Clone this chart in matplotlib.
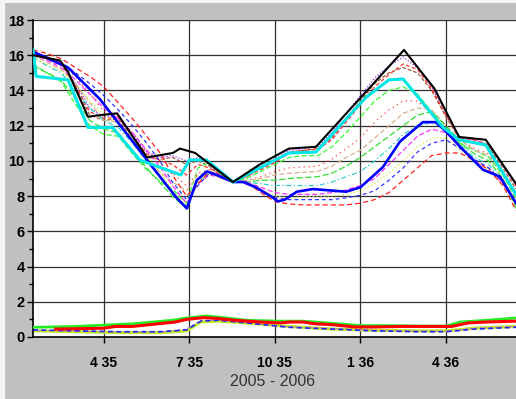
import matplotlib
matplotlib.use('Agg')
import matplotlib.pyplot as plt
from matplotlib.patches import Rectangle

# ---------------- data ----------------
x_ticks = [4, 7, 10, 13, 16]
x_tick_labels = ["4 35", "7 35", "10 35", "1 36", "4 36"]
y_ticks = [0, 2, 4, 6, 8, 10, 12, 14, 16, 18]
x_label = "2005 - 2006"

black_x = [1.51, 2.46, 2.74, 3.44, 3.86, 4.46, 5.51, 6.42, 6.67, 7.2, 8.53, 9.47, 10.49, 11.44, 14.53, 15.6, 16.46, 17.4, 18.46]
black_y = [16.0, 15.7, 15.06, 12.5, 12.6, 12.7, 10.2, 10.45, 10.7, 10.45, 8.8, 9.8, 10.7, 10.8, 16.3, 14.1, 11.36, 11.2, 8.7]

cyan_x = [1.51, 1.62, 2.46, 2.74, 3.44, 4.3, 5.26, 6.7, 7.0, 7.6, 8.53, 9.47, 10.49, 11.44, 13.19, 14.0, 14.5, 15.9, 16.46, 17.4, 18.46]
cyan_y = [16.3, 14.8, 14.65, 14.6, 11.9, 11.9, 10.05, 9.2, 10.05, 10.05, 8.8, 9.6, 10.45, 10.5, 13.6, 14.6, 14.65, 11.9, 11.2, 10.9, 8.1]

blue_x = [1.51, 2.74, 3.86, 5.51, 6.55, 6.91, 7.26, 7.61, 7.96, 8.53, 8.88, 9.33, 9.9, 10.1, 10.35, 10.77, 11.33, 12.5, 13.0, 13.79, 14.39, 15.19, 15.65, 16.05, 16.5, 17.3, 17.9, 18.46]
blue_y = [16.2, 15.3, 13.5, 10.05, 7.9, 7.3, 8.9, 9.4, 9.2, 8.8, 8.8, 8.5, 7.95, 7.7, 7.8, 8.25, 8.4, 8.25, 8.5, 9.65, 11.1, 12.2, 12.2, 11.6, 10.8, 9.5, 9.1, 7.6]

months = [1.51, 2.0, 2.5, 3.0, 3.5, 4.0, 4.5, 5.0, 5.5, 6.0, 6.4, 6.9, 7.3, 7.7, 8.0, 8.5,
          9.0, 9.5, 10.0, 10.5, 11.0, 11.5, 12.0, 12.5, 13.0, 13.5, 14.0, 14.5, 15.0, 15.5, 16.0, 16.5, 17.0, 17.5, 18.0, 18.46]

thin_purple = [16.1, 15.8, 15.5, 14.4, 13.0, 12.5, 12.6, 11.5, 10.5, 10.2, 10.3, 10.0, 10.2, 9.8, 9.4, 8.8,
               9.2, 9.7, 10.1, 10.6, 10.7, 10.8, 11.6, 12.7, 13.7, 14.7, 15.4, 15.9, 15.3, 14.2, 12.7, 11.3, 11.2, 10.9, 9.7, 8.6]
thin_brown = [16.0, 15.8, 15.5, 14.2, 12.6, 12.3, 12.4, 11.2, 10.2, 10.1, 10.2, 9.8, 10.0, 9.7, 9.3, 8.8,
              9.1, 9.6, 10.0, 10.5, 10.6, 10.7, 11.3, 12.4, 13.4, 14.4, 15.0, 15.3, 15.0, 14.0, 12.5, 11.2, 11.1, 10.8, 9.6, 8.4]
thin_red_top = [16.1, 15.9, 15.6, 14.3, 12.8, 12.4, 12.5, 11.4, 10.4, 10.0, 9.8, 9.2, 9.8, 9.6, 9.3, 8.8,
                9.1, 9.5, 9.9, 10.45, 10.6, 10.65, 11.2, 12.2, 13.2, 14.2, 14.9, 15.5, 15.2, 14.1, 12.6, 11.3, 11.2, 10.9, 9.8, 8.6]
thin_green_a = [15.5, 15.0, 14.5, 13.2, 12.0, 11.5, 11.4, 10.4, 9.5, 8.8, 8.4, 7.6, 9.6, 9.9, 9.4, 8.8,
                9.0, 9.4, 9.8, 10.2, 10.3, 10.3, 10.8, 11.6, 12.5, 13.4, 14.0, 14.2, 13.8, 12.8, 11.7, 11.0, 10.6, 10.2, 9.2, 7.8]
thin_red_dot = [16.2, 15.8, 15.4, 14.8, 13.8, 12.8, 12.5, 11.6, 10.6, 9.8, 9.3, 8.6, 9.3, 9.5, 9.2, 8.8,
                8.9, 9.1, 9.4, 9.6, 9.65, 9.7, 10.1, 10.7, 11.3, 12.2, 12.9, 13.4, 13.4, 12.7, 11.8, 11.2, 10.7, 10.4, 9.4, 8.0]
thin_tan = [16.0, 15.6, 15.2, 14.4, 13.3, 12.3, 12.2, 11.2, 10.2, 9.3, 8.8, 8.3, 9.2, 9.4, 9.1, 8.8,
            8.9, 9.0, 9.2, 9.3, 9.35, 9.4, 9.7, 10.2, 10.6, 11.3, 12.0, 12.7, 13.0, 12.9, 12.0, 11.2, 10.6, 10.3, 9.3, 7.9]
thin_green_b = [15.4, 15.0, 14.6, 13.5, 12.3, 11.8, 11.6, 10.6, 9.6, 8.7, 8.0, 7.3, 9.0, 9.4, 9.1, 8.8,
                8.8, 8.9, 8.9, 9.0, 9.05, 9.1, 9.3, 9.7, 10.2, 10.8, 11.4, 12.0, 12.6, 12.8, 12.0, 11.0, 10.4, 10.0, 9.0, 7.3]
thin_cyan = [15.9, 15.4, 15.0, 14.0, 13.0, 12.3, 11.9, 11.0, 10.0, 9.0, 8.2, 7.4, 8.8, 9.3, 9.1, 8.8,
             8.8, 8.7, 8.6, 8.6, 8.6, 8.6, 8.8, 9.1, 9.4, 10.0, 10.7, 11.5, 12.0, 12.2, 11.8, 10.9, 10.2, 9.8, 8.8, 7.5]
thin_magenta = [16.1, 15.7, 15.3, 14.6, 13.8, 13.0, 12.4, 11.6, 10.6, 9.6, 8.6, 7.6, 8.7, 9.2, 9.1, 8.8,
                8.8, 8.5, 8.2, 8.1, 8.1, 8.1, 8.2, 8.35, 8.6, 9.0, 9.8, 10.6, 11.4, 11.8, 11.6, 10.8, 10.0, 9.6, 8.7, 7.6]
thin_yellow = [15.8, 15.5, 15.1, 14.3, 13.4, 12.6, 12.1, 11.3, 10.3, 9.3, 8.3, 7.5, 8.8, 9.3, 9.1, 8.8,
               8.8, 8.4, 8.0, 7.9, 7.95, 8.0, 8.0, 8.1, 8.3, 8.7, 9.3, 10.0, 10.8, 11.3, 11.3, 10.6, 10.0, 9.5, 8.6, 7.4]
thin_blue = [16.2, 15.9, 15.6, 15.0, 14.4, 13.7, 12.9, 12.0, 11.0, 9.9, 8.8, 7.8, 8.6, 9.3, 9.2, 8.8,
             8.8, 8.3, 7.9, 7.8, 7.8, 7.8, 7.8, 7.9, 8.05, 8.3, 8.9, 9.6, 10.5, 11.0, 11.2, 10.7, 10.1, 9.6, 8.8, 7.6]
thin_red_low = [16.3, 16.1, 15.8, 15.3, 14.8, 14.2, 13.3, 12.4, 11.4, 10.4, 9.2, 8.0, 8.7, 9.4, 9.2, 8.8,
                8.8, 8.2, 7.7, 7.55, 7.5, 7.5, 7.5, 7.5, 7.6, 7.8, 8.2, 8.9, 9.6, 10.3, 10.45, 10.45, 10.0, 9.5, 8.6, 7.2]

low_red_x = [2.3, 4.0, 4.4, 5.0, 5.6, 6.5, 6.9, 7.5, 8.0, 8.6, 9.5, 10.2, 10.5, 11.0, 11.4, 12.0, 12.8, 13.5, 14.5, 15.5, 16.2, 16.8, 17.4, 18.46]
low_red_y = [0.45, 0.5, 0.6, 0.6, 0.7, 0.85, 1.0, 1.1, 1.05, 0.95, 0.85, 0.8, 0.85, 0.85, 0.75, 0.7, 0.57, 0.57, 0.6, 0.6, 0.6, 0.8, 0.85, 0.9]
low_green_x = [1.51, 3.0, 4.3, 5.0, 6.4, 6.9, 7.6, 8.2, 9.0, 10.2, 10.5, 11.0, 12.0, 13.0, 14.0, 15.0, 16.0, 16.5, 17.4, 18.46]
low_green_y = [0.55, 0.6, 0.7, 0.75, 0.95, 1.08, 1.2, 1.1, 0.95, 0.9, 0.9, 0.9, 0.78, 0.65, 0.65, 0.62, 0.62, 0.85, 0.95, 1.08]
low_x = [1.51, 3.0, 4.5, 6.0, 6.9, 7.4, 8.0, 9.0, 10.5, 12.0, 13.5, 15.0, 16.0, 17.0, 18.46]
low_yellow_y = [0.35, 0.3, 0.25, 0.25, 0.35, 0.85, 0.9, 0.8, 0.6, 0.45, 0.38, 0.35, 0.35, 0.5, 0.6]
low_blue_y = [0.4, 0.35, 0.3, 0.3, 0.4, 0.9, 0.95, 0.8, 0.55, 0.45, 0.35, 0.3, 0.3, 0.45, 0.55]
low_magenta_y = [0.38, 0.33, 0.28, 0.28, 0.45, 0.95, 0.95, 0.82, 0.58, 0.48, 0.38, 0.33, 0.33, 0.5, 0.6]

# ---------------- figure ----------------
W, H = 516, 399
fig = plt.figure(figsize=(W / 100, H / 100), dpi=100, facecolor='#c0c0c0')
fig.patches.append(Rectangle((0, 0), 5 / W, 1, transform=fig.transFigure,
                             facecolor='#f4f4f4', edgecolor='none', zorder=0))
fig.patches.append(Rectangle((0, 1 - 3 / H), 1, 3 / H, transform=fig.transFigure,
                             facecolor='#f4f4f4', edgecolor='none', zorder=0))

L, T, R, B = 33, 20, 516, 337
ax = fig.add_axes([L / W, 1 - B / H, (R - L) / W, (B - T) / H])
ax.set_facecolor('white')
ax.set_xlim(1.51, 18.46)
ax.set_ylim(0, 18)

for y in y_ticks[1:]:
    ax.axhline(y, color='#303030', lw=0.9, zorder=1)
for x in x_ticks:
    ax.axvline(x, color='#303030', lw=0.9, zorder=1)

thin = [
    (thin_purple, '#9933ff', (0, (1, 1.5))),
    (thin_brown, '#a05a3c', (0, (3, 1.5))),
    (thin_red_top, '#ff3030', (0, (3, 2))),
    (thin_green_a, '#33ff33', (0, (4, 2))),
    (thin_red_dot, '#ff4040', (0, (1, 3))),
    (thin_tan, '#d8b090', (0, (4, 2))),
    (thin_green_b, '#33dd33', (0, (5, 2))),
    (thin_cyan, '#33cccc', (0, (4, 2, 1, 2))),
    (thin_magenta, '#ff33ff', (0, (4, 2))),
    (thin_yellow, '#ccee33', (0, (1, 2))),
    (thin_blue, '#3333ff', (0, (3, 2.5))),
    (thin_red_low, '#ff2020', (0, (4, 2.5))),
]
for vals, col, ls in thin:
    ax.plot(months, vals, color=col, lw=0.9, linestyle=ls, zorder=2)

ax.plot(low_x, low_yellow_y, color='#bbee22', lw=2.2, zorder=2)
ax.plot(low_x, low_magenta_y, color='#cc66cc', lw=0.9, linestyle=(0, (2, 2)), zorder=2)
ax.plot(low_x, low_blue_y, color='#2222ff', lw=1.2, linestyle=(0, (3, 2)), zorder=2)
ax.plot(low_green_x, low_green_y, color='#22ee22', lw=2.0, zorder=3)
ax.plot(low_red_x, low_red_y, color='#ff0000', lw=2.2, zorder=3)

ax.plot(blue_x, blue_y, color='#0000ff', lw=1.9, zorder=4)
ax.plot(cyan_x, cyan_y, color='#00e5e5', lw=2.2, zorder=5)
ax.plot(black_x, black_y, color='black', lw=1.5, zorder=6)

fam = ['Liberation Sans Narrow', 'Liberation Sans', 'DejaVu Sans']
ax.set_xticks(x_ticks)
ax.set_xticklabels(x_tick_labels, fontfamily=fam, fontweight='bold', fontsize=10)
ax.set_yticks(y_ticks)
ax.set_yticklabels([str(v) for v in y_ticks], fontfamily=fam, fontweight='bold', fontsize=10.5)
ax.set_yticks(list(range(1, 18, 2)), minor=True)
ax.tick_params(axis='x', length=4, width=1, color='black', pad=10)
ax.tick_params(axis='y', which='major', length=4, width=1, color='black', pad=2)
ax.tick_params(axis='y', which='minor', length=3, width=1, color='black')

for s in ['top', 'right']:
    ax.spines[s].set_visible(False)
ax.spines['left'].set_linewidth(1.2)
ax.spines['bottom'].set_linewidth(1.2)

fig.text(273 / W, 1 - 382 / H, x_label, ha='center', va='center',
         fontsize=11.5, fontfamily=['Liberation Sans', 'DejaVu Sans'], color='#333333')

fig.savefig('out.png', dpi=100, facecolor=fig.get_facecolor())
